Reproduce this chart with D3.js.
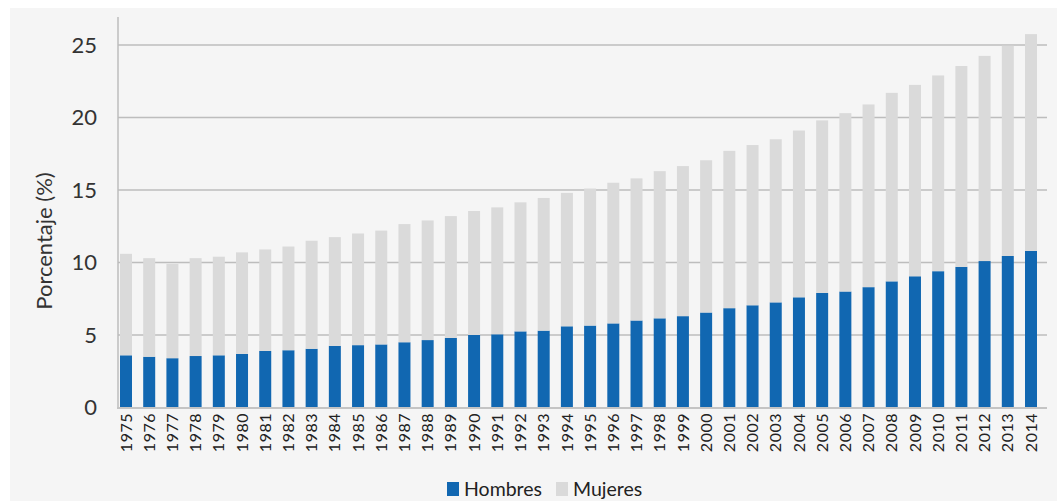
<!DOCTYPE html>
<html>
<head>
<meta charset="utf-8">
<script src="https://d3js.org/d3.v7.min.js"></script>
<style>
  body { margin: 0; background: #fff; }
  text { font-family: Lato, "Open Sans", sans-serif; }
</style>
</head>
<body>
<div id="chart"></div>
<script>

// years on the x axis
var years = ["1975","1976","1977","1978","1979","1980","1981","1982","1983","1984",
             "1985","1986","1987","1988","1989","1990","1991","1992","1993","1994",
             "1995","1996","1997","1998","1999","2000","2001","2002","2003","2004",
             "2005","2006","2007","2008","2009","2010","2011","2012","2013","2014"]

// percentage for men (bottom, blue)
var hombres = [3.6, 3.5, 3.4, 3.55, 3.6, 3.7, 3.9, 3.95, 4.05, 4.25,
               4.3, 4.35, 4.5, 4.65, 4.8, 5.0, 5.05, 5.25, 5.3, 5.6,
               5.65, 5.8, 6.0, 6.15, 6.3, 6.55, 6.85, 7.05, 7.25, 7.6,
               7.9, 8.0, 8.3, 8.7, 9.05, 9.4, 9.7, 10.1, 10.45, 10.8]

// percentage for women (stacked on top, grey)
var mujeres = [7.0, 6.8, 6.5, 6.75, 6.8, 7.0, 7.0, 7.15, 7.45, 7.5,
               7.7, 7.85, 8.15, 8.25, 8.4, 8.55, 8.75, 8.9, 9.15, 9.2,
               9.45, 9.7, 9.8, 10.15, 10.35, 10.5, 10.85, 11.05, 11.25, 11.5,
               11.9, 12.3, 12.6, 13.0, 13.2, 13.5, 13.85, 14.15, 14.5, 14.95]

var yTicks = [0, 5, 10, 15, 20, 25]
var seriesNames = ["Hombres", "Mujeres"]

var width = 1057
    height = 501

var color = d3.scaleOrdinal()
  .domain(seriesNames)
  .range(["#1167b1", "#dadada"])

var svg = d3.select("#chart")
  .append("svg")
    .attr("width", width)
    .attr("height", height)

// light grey panel behind the chart
svg.append("rect")
  .attr("x", 10).attr("y", 8)
  .attr("width", width - 10).attr("height", height - 8)
  .attr("fill", "#f5f5f5")

var x = d3.scaleBand()
  .domain(years)
  .range([120, 1037])
  .paddingInner(0.483)
  .paddingOuter(0)

var y = d3.scaleLinear()
  .domain([0, 25])
  .range([407.5, 45])

// gridlines
svg.append("g")
  .selectAll("line")
  .data(yTicks.filter(function(d){ return d > 0 }))
  .enter()
  .append("line")
    .attr("x1", 118).attr("x2", 1047)
    .attr("y1", function(d){ return y(d) }).attr("y2", function(d){ return y(d) })
    .attr("stroke", "#bdbdbd")
    .attr("stroke-width", 1.3)

// stacked data
var table = years.map(function(yr, i){ return {year: yr, Hombres: hombres[i], Mujeres: mujeres[i]} })
var stacked = d3.stack().keys(seriesNames)(table)

svg.append("g")
  .selectAll("g")
  .data(stacked)
  .enter()
  .append("g")
    .attr("fill", function(d){ return color(d.key) })
  .selectAll("rect")
  .data(function(d){ return d })
  .enter()
  .append("rect")
    .attr("x", function(d){ return x(d.data.year) })
    .attr("width", x.bandwidth())
    .attr("y", function(d){ return y(d[1]) })
    .attr("height", function(d){ return y(d[0]) - y(d[1]) })

// axis lines
svg.append("line")
  .attr("x1", 118).attr("x2", 118).attr("y1", 17).attr("y2", 408.5)
  .attr("stroke", "#bdbdbd").attr("stroke-width", 1.5)
svg.append("line")
  .attr("x1", 117).attr("x2", 1047).attr("y1", 408).attr("y2", 408)
  .attr("stroke", "#c4c4c4").attr("stroke-width", 2)

// y axis labels
var yAxis = d3.axisLeft(y).tickValues(yTicks).tickSize(0).tickPadding(0)
var gy = svg.append("g")
  .attr("transform", "translate(97,0)")
  .call(yAxis)
gy.select(".domain").remove()
gy.selectAll("text")
  .attr("fill", "#333")
  .style("font-size", "22px")

// x axis labels, rotated
var xAxis = d3.axisBottom(x).tickSize(0).tickPadding(0)
var gx = svg.append("g")
  .attr("transform", "translate(0,412)")
  .call(xAxis)
gx.select(".domain").remove()
gx.selectAll("text")
  .attr("transform", "rotate(-90)")
  .attr("x", -1)
  .attr("y", 0)
  .attr("dy", "0.35em")
  .style("text-anchor", "end")
  .attr("fill", "#222")
  .style("font-size", "16px")
  .style("letter-spacing", "0.5px")

// y title
svg.append("text")
  .attr("transform", "translate(52,241) rotate(-90)")
  .style("text-anchor", "middle")
  .style("font-size", "22px")
  .attr("fill", "#333")
  .text("Porcentaje (%)")

// legend
var legend = svg.append("g")
var legX = [447, 556]
seriesNames.forEach(function(name, i){
  legend.append("rect")
    .attr("x", legX[i]).attr("y", 482)
    .attr("width", 12).attr("height", 14)
    .attr("fill", color(name))
  legend.append("text")
    .attr("x", legX[i] + 17).attr("y", 496)
    .style("font-size", "19.5px")
    .attr("fill", "#222")
    .text(name)
})

</script>
</body>
</html>
